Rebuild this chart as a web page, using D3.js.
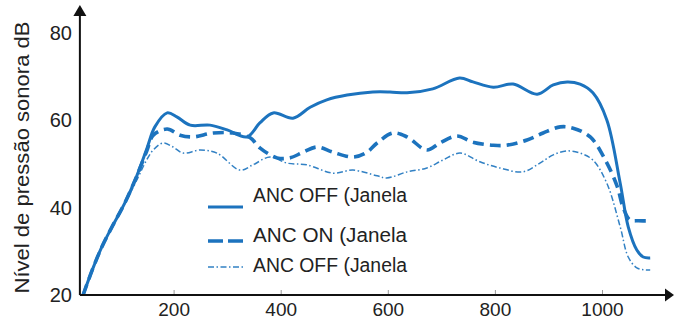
<!DOCTYPE html>
<html>
<head>
<meta charset="utf-8">
<script src="https://cdn.jsdelivr.net/npm/d3@7"></script>
<style>
  html, body { margin: 0; padding: 0; background: #fff; }
  svg { display: block; font-family: "Liberation Sans", Arial, sans-serif; }
</style>
</head>
<body>
<svg id="chart" width="674" height="323"></svg>
<script>
// ---- Data ----
const xTicks = [200, 400, 600, 800, 1000];
const yTicks = [20, 40, 60, 80];
const yLabel = "Nível de pressão sonora dB";
const seriesNames = ["ANC OFF (Janela", "ANC ON (Janela", "ANC OFF (Janela"];

const offHz = [31, 48, 66, 85, 109, 128, 150, 165, 188, 206, 231, 268, 300, 337, 361, 386, 423, 455, 486, 524, 572, 604, 636, 684, 734, 759, 797, 834, 879, 909, 935, 959, 983, 1009, 1034, 1049, 1065, 1077, 1090];
const offDb = [20, 25.7, 31, 35.6, 41.1, 46.3, 53.5, 58.5, 61.7, 60.8, 58.9, 58.9, 57.8, 56.2, 59.4, 61.7, 60.5, 63, 64.7, 65.8, 66.5, 66.5, 66.3, 67.2, 69.7, 68.8, 67.6, 68.3, 66, 68.1, 68.8, 68.3, 66.3, 60.1, 45.6, 35.6, 30.3, 28.7, 28.5];

const onHz = [31, 48, 66, 85, 109, 128, 150, 162, 188, 212, 236, 274, 311, 343, 361, 393, 417, 442, 468, 498, 535, 561, 580, 610, 636, 673, 697, 729, 759, 797, 822, 860, 890, 922, 946, 978, 1005, 1028, 1039, 1052, 1068, 1090];
const onDb = [20, 25.7, 31, 35.6, 41.1, 46.3, 53, 56.6, 58, 56.6, 56.2, 57.1, 57.1, 56, 53.7, 51.4, 51.4, 52.7, 53.9, 52.7, 51.6, 52.7, 54.8, 57.1, 56.2, 53.2, 54.8, 56.4, 55, 54.3, 54.3, 55.5, 57.1, 58.5, 58.2, 56.2, 51.2, 45, 40.2, 37.2, 37, 37];

const off2Hz = [31, 48, 66, 85, 109, 128, 150, 162, 180, 199, 218, 250, 281, 324, 348, 380, 412, 449, 498, 535, 580, 598, 636, 673, 703, 735, 772, 809, 852, 884, 909, 935, 959, 983, 1009, 1034, 1049, 1065, 1077, 1090];
const off2Db = [20, 25.7, 31, 35.6, 41, 45.5, 51, 53.2, 54.8, 53.9, 52.5, 53.2, 52.5, 48.6, 49.8, 51.6, 50.2, 49.8, 47.9, 48.6, 47.3, 46.8, 48.2, 49.1, 50.9, 52.5, 50.5, 49.1, 48.2, 50.2, 52.1, 53, 52.5, 50.9, 45.6, 35.6, 28.7, 26.2, 25.8, 25.7];

// ---- Layout ----
const color = "#1c73be";
const svg = d3.select("#chart");
const x = d3.scaleLinear().domain([0, 1000]).range([66.5, 602]);
const y = d3.scaleLinear().domain([20, 80]).range([295, 33]);
const x0 = x(25);
const xEnd = 674;

// Lines
const line = d3.line().x(d => x(d[0])).y(d => y(d[1])).curve(d3.curveCatmullRom.alpha(0.5));
const series = [
  { hz: offHz, db: offDb, width: 3, dash: null, opacity: 1 },
  { hz: onHz, db: onDb, width: 3.6, dash: "11,6", opacity: 1 },
  { hz: off2Hz, db: off2Db, width: 1.5, dash: "6,2.5,1.5,2.5", opacity: 0.9 }
];
series.forEach(s => {
  svg.append("path")
    .datum(s.hz.map((h, i) => [h, s.db[i]]))
    .attr("d", line)
    .attr("fill", "none")
    .attr("stroke", color)
    .attr("stroke-width", s.width)
    .attr("stroke-opacity", s.opacity)
    .attr("stroke-dasharray", s.dash);
});

// X axis ticks (short gray marks pointing up)
const xAxis = d3.axisBottom(x).tickValues(xTicks).tickFormat(d3.format("d"))
  .tickSizeInner(-5).tickSizeOuter(0).tickPadding(8);
const gx = svg.append("g").attr("transform", `translate(0,${y(20)})`).call(xAxis);
gx.select(".domain").remove();
gx.selectAll(".tick line").attr("stroke", "#999").attr("stroke-width", 1);
gx.selectAll(".tick text").attr("font-size", 19).attr("fill", "#222")
  .attr("font-family", "Liberation Sans, Arial, sans-serif")
  .attr("y", 21).attr("dy", 0);

// Y axis labels (no tick marks)
const yAxis = d3.axisLeft(y).tickValues(yTicks).tickSize(0).tickPadding(8);
const gy = svg.append("g").attr("transform", `translate(${x0},0)`).call(yAxis);
gy.select(".domain").remove();
gy.selectAll(".tick text").attr("font-size", 20).attr("fill", "#222")
  .attr("font-family", "Liberation Sans, Arial, sans-serif");

// Axis lines with arrowheads
svg.append("line").attr("x1", x0).attr("x2", x0).attr("y1", y(20)).attr("y2", 14)
  .attr("stroke", "#111").attr("stroke-width", 2);
svg.append("path").attr("d", `M${x0},5 L${x0 - 6.5},16 L${x0 + 6.5},16 Z`).attr("fill", "#111");
svg.append("line").attr("x1", x0).attr("x2", xEnd - 7).attr("y1", y(20)).attr("y2", y(20))
  .attr("stroke", "#111").attr("stroke-width", 2);
svg.append("path").attr("d", `M${xEnd},${y(20)} L${xEnd - 9},${y(20) - 6.5} L${xEnd - 9},${y(20) + 6.5} Z`).attr("fill", "#111");

// Y axis title
svg.append("text")
  .attr("transform", `translate(29,${(y(20) + 20) / 2}) rotate(-90)`)
  .attr("text-anchor", "middle")
  .attr("font-size", 20)
  .attr("fill", "#222")
  .attr("textLength", 272).attr("lengthAdjust", "spacingAndGlyphs")
  .text(yLabel);

// Legend
const legend = [
  { textY: 202, lineY: 207 },
  { textY: 242, lineY: 241 },
  { textY: 272, lineY: 267 }
];
legend.forEach((l, i) => {
  const s = series[i];
  svg.append("line").attr("x1", 208).attr("x2", 243).attr("y1", l.lineY).attr("y2", l.lineY)
    .attr("stroke", color).attr("stroke-width", s.width).attr("stroke-opacity", s.opacity)
    .attr("stroke-dasharray", i === 1 ? "15,5" : s.dash);
  svg.append("text").attr("x", 253).attr("y", l.textY)
    .attr("font-size", 20).attr("fill", "#222")
    .attr("textLength", 154).attr("lengthAdjust", "spacingAndGlyphs")
    .text(seriesNames[i]);
});
</script>
</body>
</html>
